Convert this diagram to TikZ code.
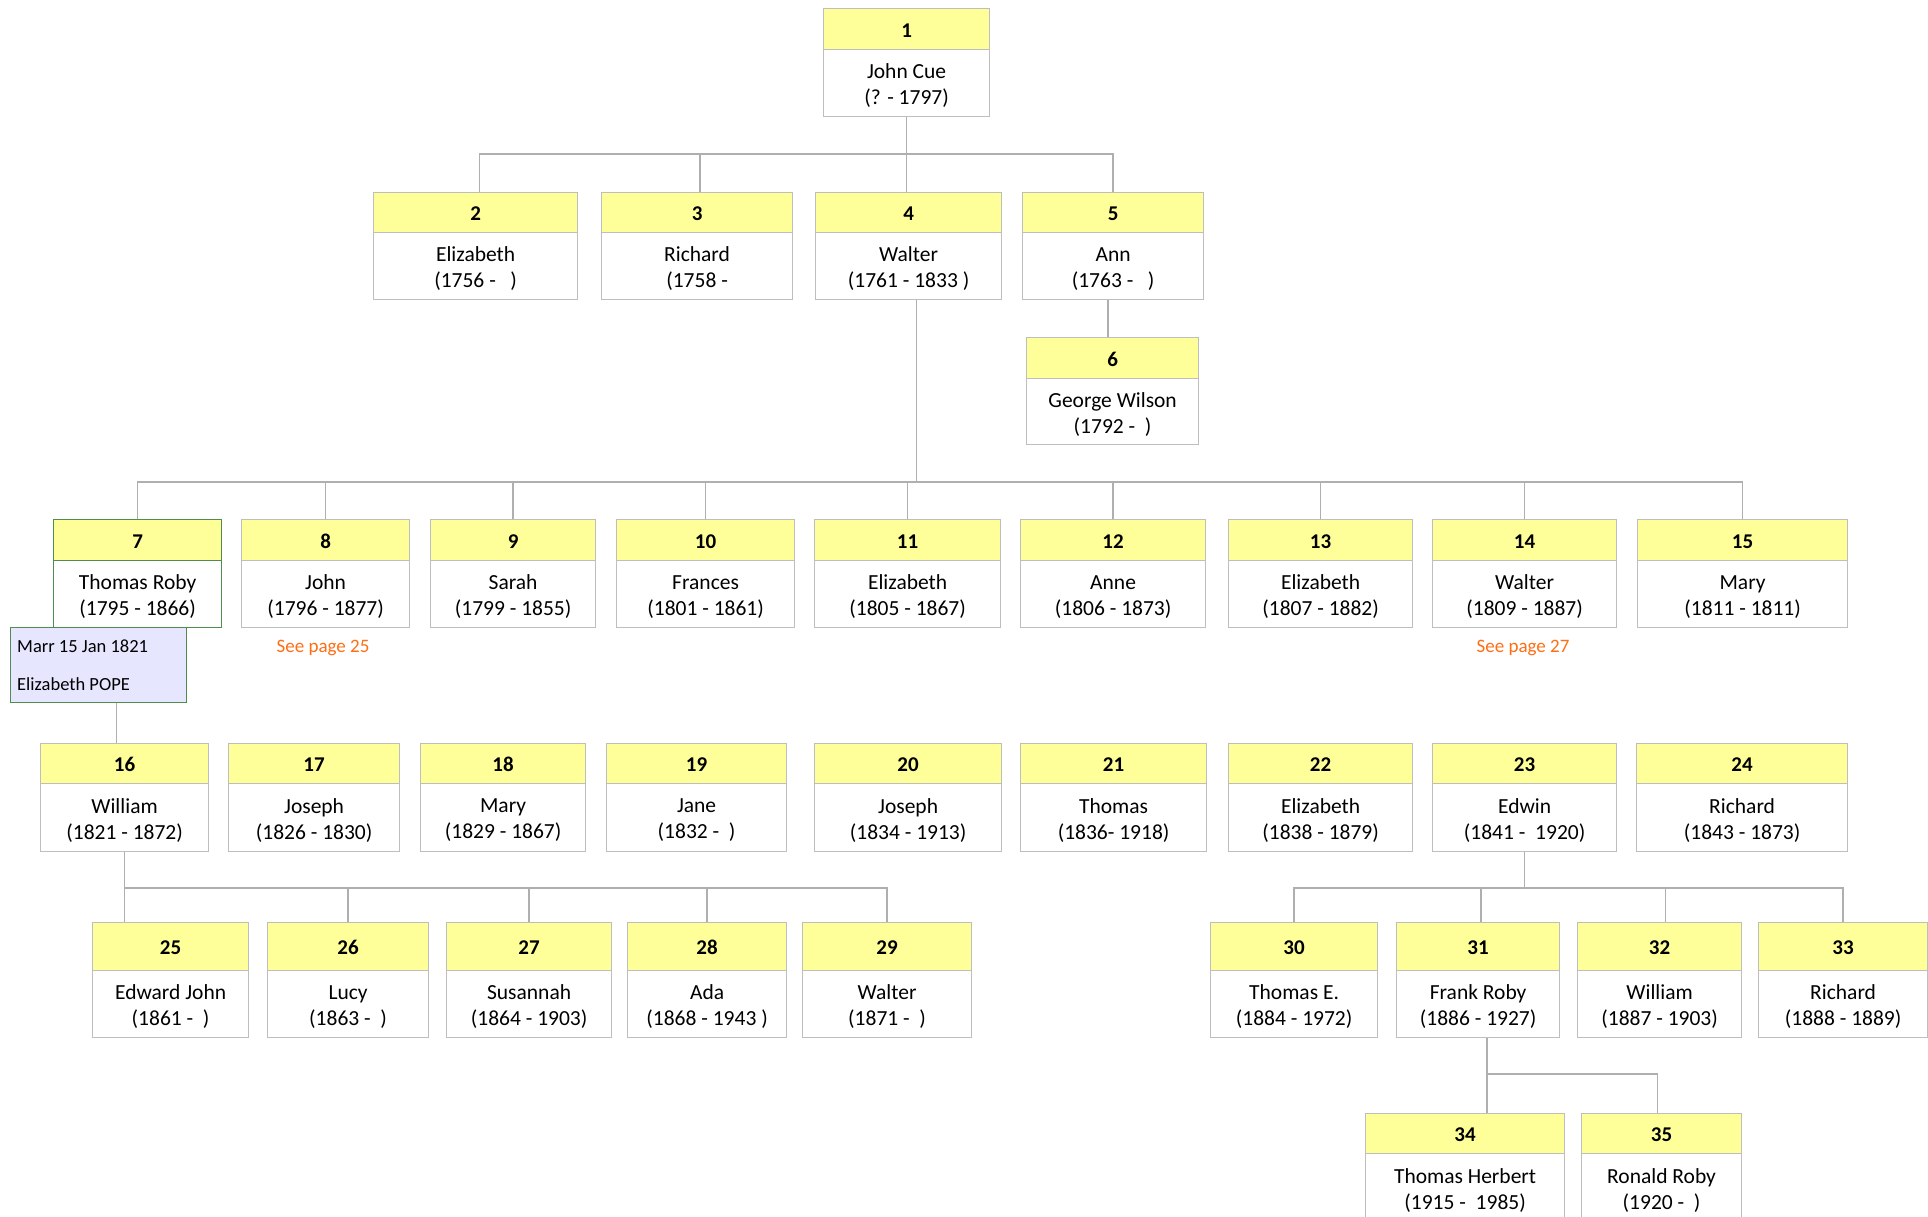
\documentclass[tikz,border=0pt]{standalone}
\usepackage{fontspec}
\setmainfont{Carlito}
\definecolor{boxgray}{RGB}{190,190,190}
\definecolor{linegray}{RGB}{175,175,175}
\definecolor{hdryellow}{RGB}{255,255,153}
\definecolor{boxgreen}{RGB}{80,140,80}
\definecolor{marrfill}{RGB}{230,230,255}
\definecolor{seeorange}{RGB}{255,110,20}
\tikzset{
  bordercol/.style={draw=boxgray},
  hdr/.style={bordercol, fill=hdryellow, line width=1.2pt, inner sep=0pt, anchor=north west,
    font=\fontsize{21}{26}\selectfont\bfseries},
  bdy/.style={bordercol, fill=white, line width=1.2pt, inner sep=0pt, anchor=north west, align=center,
    font=\fontsize{21.5}{26}\selectfont},
  conn/.style={draw=linegray, line width=1.4pt},
  seenote/.style={text=seeorange, font=\fontsize{19}{23}\selectfont, inner sep=0pt},
  marrbox/.style={draw=boxgreen, fill=marrfill, line width=1.2pt, inner sep=0pt, anchor=north west},
  marrtext/.style={font=\fontsize{18.5}{22}\selectfont, inner sep=0pt, anchor=west},
}
\newcommand{\lowr}[1]{\raisebox{-2.5pt}[\height][\depth]{#1}}
% id, x1, x2, ytop, yheader, ybottom, number, name, dates
\newcommand{\pbox}[9]{%
  \node[hdr, minimum width={#3-#2}, minimum height={#5-#4}] (h#1) at (#2,#4) {\raisebox{-1.2pt}[\height][\depth]{#7}};
  \node[bdy, minimum width={#3-#2}, minimum height={#6-#5}] (b#1) at (#2,#5) {\lowr{#8}\\\lowr{#9}};
}
\begin{document}
\begin{tikzpicture}[x=1pt,y=-1pt]
\useasboundingbox[fill=white] (0,0) rectangle (1928,1217);

% Row 1
\pbox{1}{823}{989}{8}{49}{116}{1}{John Cue}{(? - 1797)}
% Row 2
\pbox{2}{373}{577}{192}{232}{299}{2}{Elizabeth}{(1756 -~~~)}
\pbox{3}{601}{792}{192}{232}{299}{3}{Richard}{(1758 -}
\pbox{4}{815}{1001}{192}{232}{299}{4}{Walter}{(1761 - 1833 )}
\pbox{5}{1022}{1203}{192}{232}{299}{5}{Ann}{(1763 -~~~)}
\pbox{6}{1026}{1198}{337}{378}{444}{6}{George Wilson}{(1792 -~~)}
% Row 3
\begin{scope}[bordercol/.style={draw=boxgreen}]
\pbox{7}{53}{221}{519}{560}{627}{7}{Thomas Roby}{(1795 - 1866)}
\end{scope}
\pbox{8}{241}{409}{519}{560}{627}{8}{John}{(1796 - 1877)}
\pbox{9}{430}{595}{519}{560}{627}{9}{Sarah}{(1799 - 1855)}
\pbox{10}{616}{794}{519}{560}{627}{10}{Frances}{(1801 - 1861)}
\pbox{11}{814}{1000}{519}{560}{627}{11}{Elizabeth}{(1805 - 1867)}
\pbox{12}{1020}{1205}{519}{560}{627}{12}{Anne}{(1806 - 1873)}
\pbox{13}{1228}{1412}{519}{560}{627}{13}{Elizabeth}{(1807 - 1882)}
\pbox{14}{1432}{1616}{519}{560}{627}{14}{Walter}{(1809 - 1887)}
\pbox{15}{1637}{1847}{519}{560}{627}{15}{Mary}{(1811 - 1811)}

% marriage box
\node[marrbox, minimum width=176, minimum height=75] (marr) at (10,627) {};
\node[marrtext] (marr1) at (17,646) {Marr 15 Jan 1821};
\node[marrtext] (marr2) at (17,684) {Elizabeth POPE};

% see page notes
\node[seenote] (see25) at (323,648) {See page 25};
\node[seenote] (see27) at (1523,648) {See page 27};

% Row 4
\pbox{16}{40}{208}{743}{783}{851}{16}{William}{(1821 - 1872)}
\pbox{17}{228}{399}{743}{783}{851}{17}{Joseph}{(1826 - 1830)}
\pbox{18}{420}{585}{743}{783}{851}{18}{Mary}{(1829 - 1867)}
\pbox{19}{606}{786}{743}{783}{851}{19}{Jane}{(1832 -~~)}
\pbox{20}{814}{1001}{743}{783}{851}{20}{Joseph}{(1834 - 1913)}
\pbox{21}{1020}{1206}{743}{783}{851}{21}{Thomas}{(1836- 1918)}
\pbox{22}{1228}{1412}{743}{783}{851}{22}{Elizabeth}{(1838 - 1879)}
\pbox{23}{1432}{1616}{743}{783}{851}{23}{Edwin}{(1841 -~~1920)}
\pbox{24}{1636}{1847}{743}{783}{851}{24}{Richard}{(1843 - 1873)}

% Row 5
\pbox{25}{92}{248}{922}{970}{1037}{25}{Edward John}{(1861 -~~)}
\pbox{26}{267}{428}{922}{970}{1037}{26}{Lucy}{(1863 -~~)}
\pbox{27}{446}{611}{922}{970}{1037}{27}{Susannah}{(1864 - 1903)}
\pbox{28}{627}{786}{922}{970}{1037}{28}{Ada}{(1868 - 1943 )}
\pbox{29}{802}{971}{922}{970}{1037}{29}{Walter}{(1871 -~~)}
\pbox{30}{1210}{1377}{922}{970}{1037}{30}{Thomas E.}{(1884 - 1972)}
\pbox{31}{1396}{1559}{922}{970}{1037}{31}{Frank Roby}{(1886 - 1927)}
\pbox{32}{1577}{1741}{922}{970}{1037}{32}{William}{(1887 - 1903)}
\pbox{33}{1758}{1927}{922}{970}{1037}{33}{Richard}{(1888 - 1889)}

% Row 6
\pbox{34}{1365}{1564}{1113}{1153}{1222}{34}{Thomas Herbert}{(1915 -~~1985)}
\pbox{35}{1581}{1741}{1113}{1153}{1222}{35}{Ronald Roby}{(1920 -~~)}

% ---- connectors ----
% family of 1
\coordinate (busA) at (0,154);
\draw[conn] (b1.south) -- (b1.south |- h4.north);
\draw[conn] ([xshift=4]h2.north) -- ([xshift=4]h2.north |- busA) -- (h5.north |- busA) -- (h5.north);
\draw[conn] ([xshift=3]h3.north) -- ([xshift=3]h3.north |- busA);
% 5 -> 6
\draw[conn] ([xshift=-5]b5.south) -- ([xshift=-5]b5.south |- h6.north);
% family of 4
\coordinate (busB) at (0,482);
\coordinate (w4) at ([xshift=8]b4.south);
\draw[conn] (w4) -- (w4 |- busB);
\draw[conn] (h7.north) -- (h7.north |- busB) -- (h15.north |- busB) -- (h15.north);
\foreach \k in {8,9,10,11,12,13,14} {
  \draw[conn] (h\k.north) -- (h\k.north |- busB);
}
% marriage -> 16
\draw[conn] ([xshift=18]marr.south) -- ([xshift=18]marr.south |- h16.north);
% family of 16
\coordinate (busC) at (0,888);
\draw[conn] (b16.south) -- (b16.south |- h25.north);
\draw[conn] (b16.south |- busC) -- (h29.north |- busC) -- (h29.north);
\foreach \k in {26,27,28} {
  \draw[conn] (h\k.north) -- (h\k.north |- busC);
}
% family of 23
\draw[conn] (b23.south) -- (b23.south |- busC);
\draw[conn] (h30.north) -- (h30.north |- busC) -- (h33.north |- busC) -- (h33.north);
\draw[conn] ([xshift=3]h31.north) -- ([xshift=3]h31.north |- busC);
\draw[conn] ([xshift=6]h32.north) -- ([xshift=6]h32.north |- busC);
% family of 31
\coordinate (busD) at (0,1074);
\coordinate (f31) at ([xshift=9]b31.south);
\draw[conn] (f31) -- (f31 |- h34.north);
\draw[conn] (f31 |- busD) -- ([xshift=-4]h35.north |- busD) -- ([xshift=-4]h35.north);
\end{tikzpicture}
\end{document}
